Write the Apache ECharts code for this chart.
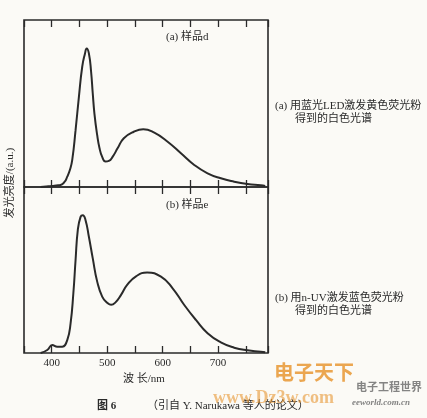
<!DOCTYPE html>
<html><head><meta charset="utf-8">
<script src="https://cdn.jsdelivr.net/npm/echarts@6/dist/echarts.min.js"></script>
<style>html,body{margin:0;padding:0;background:#fbfaf6;}#c{width:427px;height:418px;}</style>
</head><body><div id="c"></div>
<script>
const wavelengthA = [380,390,400,408,416,423,428,433,437,443,449,455,460,463,467,471,474,477,482,486,491,497,503,510,519,530,548,565,585,609,633,657,681,705,729,753,777,785];
const intensityA  = [0,0.3,0.6,0.9,1.2,3,6.2,10.5,16.2,34,54,72,80,83,80,69,56,44,31,23.5,18,15.2,15.6,18.2,23.3,29.2,33.1,34.6,32.5,27.1,20.2,13.2,8.2,5.2,3.2,1.8,1.0,0.6];
const wavelengthB = [380,392,401,410,419,428,434,439,443,447,452,456,461,467,474,482,491,500,507,515,525,536,552,572,597,618,639,660,681,705,729,753,777,785];
const intensityB  = [0,1.8,4.8,3.8,3.8,7.8,17.9,36,56,74,82,83,80,70,57,43,34,30.3,29,30.5,35,41,46.2,48.5,46,39,28.9,19.9,11.9,6.4,3.2,1.6,0.8,0.4];
const tickLabels = [400,500,600,700];

const serif = 'Liberation Serif, "Noto Sans CJK SC", serif';
const ink = '#2a2a2a';
const chart = echarts.init(document.getElementById('c'));

function xAx(grid, pos, inside, labels) {
  return {
    type: 'value', gridIndex: grid, position: pos, min: 350, max: 790, interval: 50,
    axisLine: {show: false}, splitLine: {show: false},
    axisTick: {show: true, inside: inside, length: 7, lineStyle: {color: ink, width: 1.3}},
    axisLabel: {show: labels, color: ink, fontFamily: serif, fontSize: 11, margin: 5,
      formatter: v => tickLabels.indexOf(v) >= 0 ? String(v) : ''}
  };
}
function yAx(grid) {
  return {type: 'value', gridIndex: grid, min: 0, max: 100, show: false};
}
const pairs = (xs, ys) => xs.map((x, i) => [x, ys[i]]);

chart.setOption({
  animation: false,
  backgroundColor: '#fbfaf6',
  grid: [
    {left: 24, top: 20, width: 244, height: 167, show: true, borderColor: ink, borderWidth: 1.6, backgroundColor: 'transparent'},
    {left: 24, top: 187, width: 244, height: 166, show: true, borderColor: ink, borderWidth: 1.6, backgroundColor: 'transparent'}
  ],
  xAxis: [
    xAx(0, 'bottom', true, false),
    xAx(0, 'top', true, false),
    xAx(1, 'bottom', true, true),
    xAx(1, 'top', true, false)
  ],
  yAxis: [yAx(0), yAx(1)],
  series: [
    {type: 'line', xAxisIndex: 0, yAxisIndex: 0, data: pairs(wavelengthA, intensityA), smooth: true, showSymbol: false,
     lineStyle: {color: ink, width: 2}},
    {type: 'line', xAxisIndex: 2, yAxisIndex: 1, data: pairs(wavelengthB, intensityB), smooth: true, showSymbol: false,
     lineStyle: {color: ink, width: 2}}
  ],
  graphic: [
    {type: 'text', left: 166, top: 32, style: {text: '(a) 样品d', font: '11px ' + serif, fill: ink}},
    {type: 'text', left: 166, top: 200, style: {text: '(b) 样品e', font: '11px ' + serif, fill: ink}},
    {type: 'text', x: 10, y: 183, rotation: Math.PI / 2,
     style: {text: '发光亮度/(a.u.)', font: '11px ' + serif, fill: ink, align: 'center', verticalAlign: 'middle'}},
    {type: 'text', left: 275, top: 101, style: {text: '(a) 用蓝光LED激发黄色荧光粉', font: '11px ' + serif, fill: ink}},
    {type: 'text', left: 295, top: 114, style: {text: '得到的白色光谱', font: '11px ' + serif, fill: ink}},
    {type: 'text', left: 275, top: 293, style: {text: '(b) 用n-UV激发蓝色荧光粉', font: '11px ' + serif, fill: ink}},
    {type: 'text', left: 295, top: 306, style: {text: '得到的白色光谱', font: '11px ' + serif, fill: ink}},
    {type: 'text', left: 123, top: 374, style: {text: '波 长/nm', font: '11px ' + serif, fill: ink}},
    {type: 'text', left: 97, top: 401, style: {text: '图 6', font: 'bold 11px ' + serif, fill: ink}},
    {type: 'text', left: 147, top: 401, style: {text: '（引自 Y. Narukawa 等人的论文）', font: '11px ' + serif, fill: ink}},
    {type: 'text', left: 274, top: 365, style: {text: '电子天下', font: 'bold 20px ' + serif, fill: 'rgba(232,150,50,0.85)'}},
    {type: 'text', left: 213, top: 389, style: {text: 'www.Dz3w.com', font: 'bold 18px ' + serif, fill: 'rgba(232,150,50,0.6)'}},
    {type: 'text', left: 356, top: 383, style: {text: '电子工程世界', font: 'bold 11px ' + serif, fill: 'rgba(110,110,110,0.85)'}},
    {type: 'text', left: 352, top: 398, style: {text: 'eeworld.com.cn', font: 'italic bold 9px ' + serif, fill: 'rgba(110,110,110,0.85)'}}
  ]
});
</script></body></html>
